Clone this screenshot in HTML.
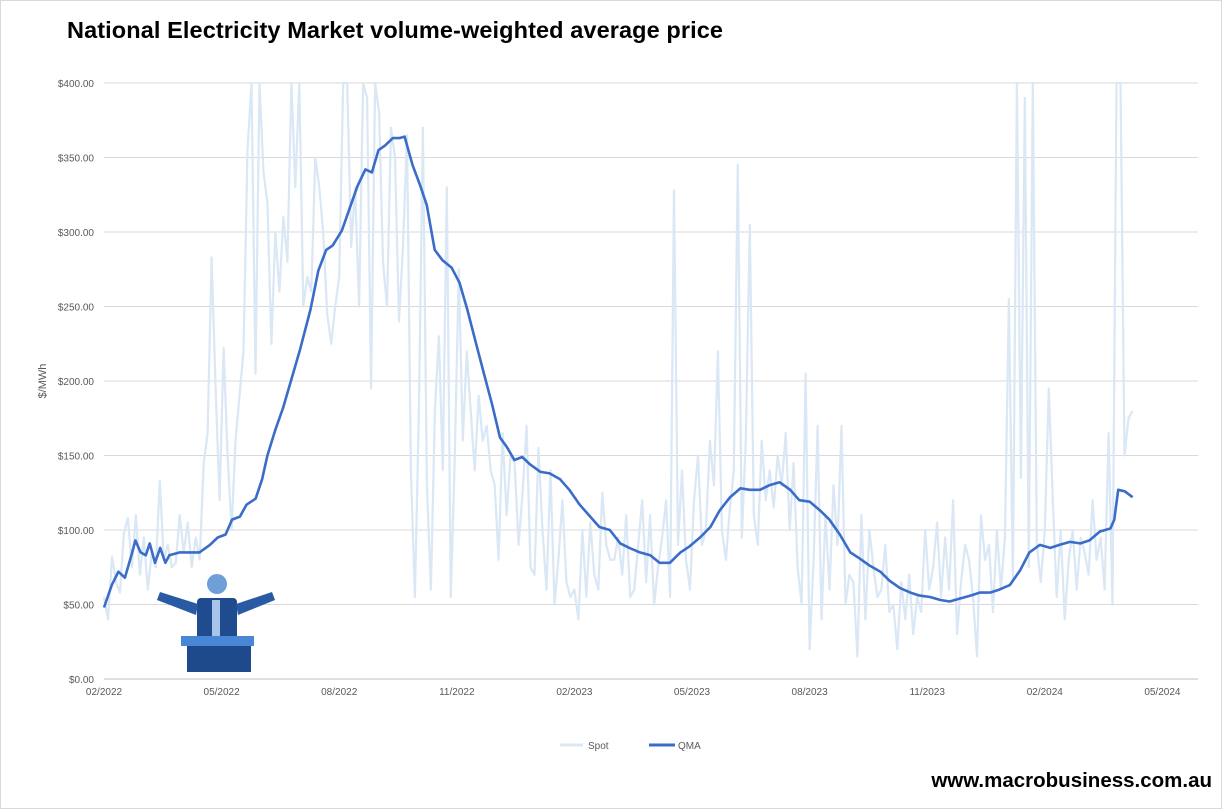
<!DOCTYPE html>
<html><head><meta charset="utf-8">
<style>
body{margin:0;background:#fff;}
#wrap{position:relative;width:1225px;height:812px;overflow:hidden;font-family:"Liberation Sans",sans-serif;}
</style></head>
<body>
<div id="wrap">
<svg id="chart" width="1225" height="812">
  <rect x="0.5" y="0.5" width="1221" height="808" fill="#fff" stroke="#d9d9d9"/>
  <text x="67" y="38" font-size="23.5" font-weight="bold" fill="#000" letter-spacing="0.1">National Electricity Market volume-weighted average price</text>
  <text transform="translate(46,381) rotate(-90)" text-anchor="middle" font-size="11" fill="#595959">$/MWh</text>
  <g id="grid"></g><g id="yticks"></g><g id="xticks"></g>
  <g id="series"></g>
  <g fill="#2f5fa8">
    <rect x="197" y="598" width="40" height="45" rx="4" fill="#1f4c8f"/>
    <circle cx="217" cy="584" r="10" fill="#6f9fd8"/>
    <polygon points="198,604 160,592 157,600 196,615" fill="#2a5aa3"/>
    <polygon points="236,604 272,592 275,600 238,615" fill="#2a5aa3"/>
    <rect x="181" y="636" width="73" height="10" fill="#4a86d6"/>
    <rect x="187" y="646" width="64" height="26" fill="#1e4a8c"/>
    <rect x="212" y="600" width="8" height="36" fill="#a9c6ea"/>
  </g>
  <g>
    <line x1="560" y1="745" x2="583" y2="745" stroke="#dae7f5" stroke-width="3"/>
    <text x="588" y="749" font-size="10" fill="#595959">Spot</text>
    <line x1="649" y1="745" x2="675" y2="745" stroke="#3a6cc8" stroke-width="3"/>
    <text x="678" y="749" font-size="10" fill="#595959">QMA</text>
  </g>
  <text x="1212" y="787" text-anchor="end" font-size="20.5" font-weight="bold" fill="#000">www.macrobusiness.com.au</text>
</svg>
</div>
<script>
const yTickValues=[0,50,100,150,200,250,300,350,400];
const xTickLabels=["02/2022","05/2022","08/2022","11/2022","02/2023","05/2023","08/2023","11/2023","02/2024","05/2024"];
const qmaDays=[0,6,11,16,21,24,28,32,35,39,43,47,50,58,66,73,81,87,93,98,104,109,116,121,125,131,137,142,150,158,164,170,175,182,188,194,200,205,210,215,221,226,230,236,242,247,253,259,266,272,278,285,291,297,303,308,314,320,326,334,341,349,356,364,372,379,387,395,402,410,418,425,433,441,448,456,464,471,479,487,494,502,509,517,525,532,540,548,555,563,571,578,586,594,601,609,617,624,632,640,647,655,663,670,678,685,693,701,708,716,724,731,739,747,754,762,770,773,776,781,787];
const qmaValues=[48,63,72,68,83,93,85,83,91,78,88,78,83,85,85,85,90,95,97,107,109,117,121,134,150,167,182,197,221,248,274,288,291,301,316,331,342,340,355,358,363,363,364,345,331,318,288,281,276,266,248,224,204,184,162,156,147,149,144,139,138,134,127,117,109,102,100,91,88,85,83,78,78,85,89,95,102,113,122,128,127,127,130,132,127,120,119,113,107,97,85,81,76,72,66,61,58,56,55,53,52,54,56,58,58,60,63,73,85,90,88,90,92,91,93,99,101,107,127,126,122];
const spotValues=[55,40,82,65,58,98,108,75,
110,70,95,60,85,75,133,80,90,75,
78,110,85,105,75,95,80,145,165,283,
195,120,222,150,100,160,190,220,355,400,
205,400,340,320,225,300,260,310,280,400,
330,400,250,270,260,350,330,300,245,225,
250,270,400,400,290,330,250,400,390,195,
400,380,280,250,370,350,240,290,365,140,
55,180,370,130,60,180,230,140,330,55,
150,275,160,220,180,140,190,160,170,140,
130,80,165,110,150,145,90,125,170,75,
70,155,100,60,140,50,80,120,65,55,
60,40,100,55,105,70,60,125,90,80,
80,95,70,110,55,60,90,120,65,110,
50,75,95,120,55,328,90,140,80,60,
120,150,90,100,160,130,220,100,80,115,
140,345,95,160,305,110,90,160,120,140,
115,150,130,165,100,145,75,50,205,20,
80,170,40,110,60,130,90,170,50,70,
65,15,110,40,100,75,55,60,90,45,
50,20,65,40,70,30,55,45,100,60,
75,105,55,95,60,120,30,65,90,80,
55,15,110,80,90,45,100,60,95,255,
65,400,135,390,75,400,90,65,100,195,
120,55,100,40,80,100,60,95,85,70,
120,80,95,60,165,50,400,400,150,175,180];
const spotStepDays=3.05;

const NS="http://www.w3.org/2000/svg";
const X0=104,PX_PER_DAY=1.307,Y0=679,YTOP=83,PLOT_R=1198;
const xs=d=>X0+d*PX_PER_DAY;
const ys=v=>Y0-(Math.min(v,400)/400)*(Y0-YTOP);
function mk(tag,attrs,parent){const e=document.createElementNS(NS,tag);for(const k in attrs)e.setAttribute(k,attrs[k]);parent.appendChild(e);return e;}
const grid=document.getElementById('grid'),yt=document.getElementById('yticks'),xt=document.getElementById('xticks'),ser=document.getElementById('series');
yTickValues.forEach(v=>{
  const l=mk('line',{x1:X0,x2:PLOT_R,y1:ys(v),y2:ys(v),stroke:v===0?'#bfbfbf':'#d9d9d9','stroke-width':1},grid);
  
  
  const t=mk('text',{x:94,y:ys(v)+4,'text-anchor':'end','font-size':10,fill:'#595959'},yt);
  t.textContent='$'+v.toFixed(2);
  
  
});
xTickLabels.forEach((s,i)=>{
  const x=X0+i*117.6;
  const t=mk('text',{x:x,y:695,'text-anchor':'middle','font-size':10,fill:'#595959'},xt);
  t.textContent=s;
  
  
});
let d='';
spotValues.forEach((v,i)=>{d+=(i?'L':'M')+xs(i*spotStepDays).toFixed(1)+','+ys(v).toFixed(1);});
const sp=mk('path',{d:d,fill:'none',stroke:'#dae7f5','stroke-width':2.2,'stroke-linejoin':'round'},ser);


d='';
qmaValues.forEach((v,i)=>{d+=(i?'L':'M')+xs(qmaDays[i]).toFixed(1)+','+ys(v).toFixed(1);});
const qm=mk('path',{d:d,fill:'none',stroke:'#3a6cc8','stroke-width':2.6,'stroke-linejoin':'round'},ser);


</script>
</body></html>
